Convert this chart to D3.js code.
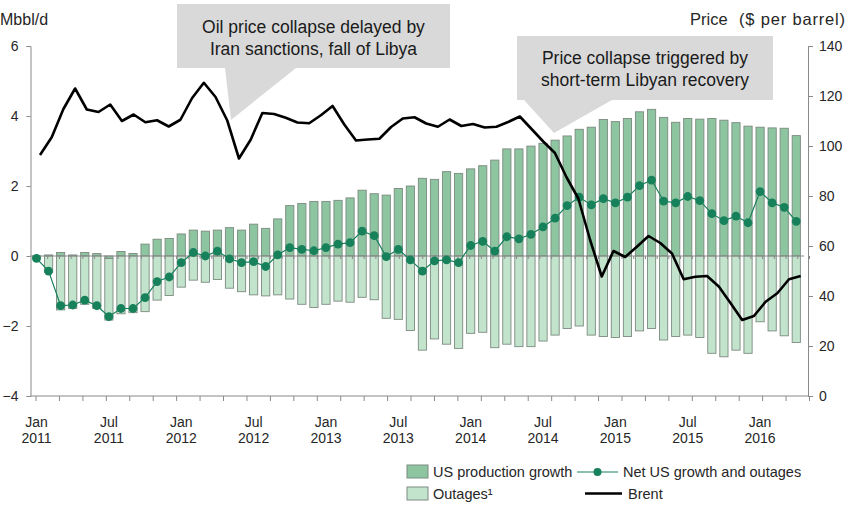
<!DOCTYPE html>
<html><head><meta charset="utf-8">
<script src="https://cdn.jsdelivr.net/npm/d3@7"></script>
<style>
body{margin:0;background:#fff;}
svg text{font-family:"Liberation Sans", Arial, sans-serif;}
</style></head><body>
<svg id="chart" width="849" height="508"></svg>
<script>
// ---------- DATA ----------
const barMonths = d3.timeMonths(new Date(2011,0,1), new Date(2016,4,1));   // Jan 2011 .. Apr 2016 (64)
const brentMonths = d3.timeMonths(new Date(2011,0,1), new Date(2016,6,1)); // Jan 2011 .. Jun 2016 (66)

const usProduction = [0, 0.03, 0.10, 0.03, 0.10, 0.07, -0.07, 0.13, 0.07, 0.34, 0.48, 0.50,
  0.63, 0.74, 0.71, 0.74, 0.81, 0.74, 0.91, 0.79, 1.06, 1.44, 1.50, 1.56,
  1.56, 1.59, 1.66, 1.88, 1.78, 1.74, 1.93, 2.00, 2.22, 2.19, 2.41, 2.36,
  2.49, 2.58, 2.74, 3.06, 3.06, 3.14, 3.22, 3.31, 3.43, 3.62, 3.68, 3.90,
  3.84, 3.93, 4.12, 4.19, 3.96, 3.82, 3.93, 3.91, 3.93, 3.88, 3.81, 3.71,
  3.68, 3.66, 3.65, 3.44];

const outages = [-0.07, -0.47, -1.54, -1.50, -1.38, -1.50, -1.76, -1.65, -1.62, -1.59, -1.26, -1.13,
  -0.89, -0.69, -0.75, -0.67, -0.92, -1.02, -1.11, -1.14, -1.11, -1.23, -1.38, -1.47,
  -1.38, -1.29, -1.32, -1.18, -1.25, -1.78, -1.81, -2.13, -2.69, -2.37, -2.52, -2.64,
  -2.21, -2.18, -2.62, -2.52, -2.59, -2.59, -2.43, -2.26, -2.07, -2.00, -2.26, -2.30,
  -2.33, -2.30, -2.14, -2.07, -2.40, -2.30, -2.26, -2.33, -2.78, -2.88, -2.69, -2.78,
  -1.88, -2.14, -2.28, -2.47];

const netGrowth = [-0.07, -0.43, -1.42, -1.40, -1.26, -1.42, -1.73, -1.50, -1.50, -1.19, -0.73, -0.60,
  -0.19, 0.10, 0.00, 0.14, -0.08, -0.19, -0.16, -0.30, 0.03, 0.24, 0.19, 0.15,
  0.24, 0.34, 0.38, 0.71, 0.58, -0.02, 0.19, -0.11, -0.43, -0.14, -0.11, -0.19,
  0.30, 0.42, 0.14, 0.55, 0.49, 0.62, 0.83, 1.08, 1.44, 1.68, 1.46, 1.64,
  1.52, 1.68, 2.01, 2.17, 1.57, 1.52, 1.70, 1.58, 1.21, 1.01, 1.14, 0.95,
  1.84, 1.52, 1.39, 0.99];

const brent = [96.4, 103.5, 114.8, 123.0, 114.6, 113.6, 116.6, 110.0, 112.6, 109.5, 110.3, 107.8,
  110.5, 119.2, 125.3, 119.6, 110.2, 95.0, 102.5, 113.2, 112.8, 111.3, 109.4, 109.1,
  112.3, 116.0, 108.6, 102.2, 102.6, 102.9, 107.6, 111.0, 111.5, 109.0, 107.7, 110.6,
  108.0, 108.8, 107.4, 107.7, 109.6, 111.8, 106.8, 101.8, 97.2, 87.4, 79.0, 62.5,
  47.8, 58.0, 55.6, 59.7, 64.0, 61.2, 57.0, 46.7, 47.7, 48.0, 43.8, 37.2,
  30.4, 32.0, 37.7, 41.1, 46.7, 48.0];

const leftTicks = [-4, -2, 0, 2, 4, 6];
const rightTicks = [0, 20, 40, 60, 80, 100, 120, 140];
const xTickLabels = ["Jan 2011","Jul 2011","Jan 2012","Jul 2012","Jan 2013","Jul 2013",
  "Jan 2014","Jul 2014","Jan 2015","Jul 2015","Jan 2016"];

const callouts = [
  {lines:["Oil price collapse delayed by","Iran sanctions, fall of Libya"]},
  {lines:["Price collapse triggered by","short-term Libyan recovery"]}
];

// ---------- SETUP ----------
const svg = d3.select("#chart");
const C = {dark:"#8cc5a0", light:"#c3e4cc", edge:"#7d8a80", net:"#16815b", axis:"#8a8a8a", text:"#262626"};
const fmt = d3.timeFormat("%b %Y");

const x = d3.scaleBand().domain(barMonths.map(fmt)).range([30.5, 802.3]).paddingInner(0.32).paddingOuter(0.16);
const xb = d3.scalePoint().domain(brentMonths.map(fmt)).range([40, 800.7]);
const xt = d3.scaleLinear().domain([0, 66]).range([35.5, 809]);
const yL = d3.scaleLinear().domain([-4, 6]).range([396, 46]);
const yR = d3.scaleLinear().domain([0, 140]).range([396, 46]);

const rows = barMonths.map((m, i) => ({m: fmt(m), prod: usProduction[i], out: outages[i]}));
const stack = d3.stack().keys(["prod", "out"]).offset(d3.stackOffsetDiverging)(rows);

// ---------- CALLOUTS ----------
const boxes = [
  {x0:177, x1:450, y0:4, y1:68, w0:225, w1:296, tip:[231,120], base:[32.5,54.5]},
  {x0:517, x1:773, y0:36, y1:100, w0:524, w1:612, tip:[554,133], base:[64,86]}
];
boxes.forEach((b, k) => {
  const pts = [[b.x0,b.y0],[b.x1,b.y0],[b.x1,b.y1],[b.w1,b.y1],b.tip,[b.w0,b.y1],[b.x0,b.y1]];
  svg.append("path").attr("d", d3.line()(pts) + "Z").attr("fill", "#d9d9d9");
  callouts[k].lines.forEach((t, j) => {
    svg.append("text").attr("x", (b.x0 + b.x1) / 2).attr("y", b.base[j])
      .attr("text-anchor", "middle").attr("font-size", 17.5).attr("fill", "#1a1a1a").text(t);
  });
});

// ---------- BARS ----------
const barG = svg.append("g");
stack.forEach((s, si) => {
  barG.selectAll(null).data(s).join("rect")
    .attr("x", d => x(d.data.m))
    .attr("width", x.bandwidth())
    .attr("y", d => yL(Math.max(d[0], d[1])))
    .attr("height", d => Math.abs(yL(d[0]) - yL(d[1])))
    .attr("fill", si === 0 ? C.dark : C.light)
    .attr("stroke", C.edge).attr("stroke-width", 0.9);
});

// ---------- AXES ----------
function styleAxis(g) {
  g.selectAll("path.domain").attr("stroke", C.axis);
  g.selectAll(".tick line").attr("stroke", C.axis);
  g.selectAll(".tick text").attr("fill", C.text).attr("font-size", 14)
    .attr("font-family", '"Liberation Sans", Arial, sans-serif');
}
// zero line with small ticks
const zg = svg.append("g").attr("transform", `translate(0,${yL(0)})`)
  .call(d3.axisBottom(xt).tickValues(d3.range(0, 67)).tickSize(3).tickFormat(""));
zg.select("path.domain").remove();
zg.selectAll(".tick line").attr("stroke", C.axis);
svg.append("line").attr("x1", 30.5).attr("x2", 804).attr("y1", yL(0)).attr("y2", yL(0)).attr("stroke", C.axis);

// bottom axis
const bg = svg.append("g").attr("transform", `translate(0,${yL(-4)})`)
  .call(d3.axisBottom(xt).tickValues(d3.range(0, 67, 2)).tickSize(5).tickFormat(""));
bg.select("path.domain").remove();
bg.selectAll(".tick line").attr("stroke", C.axis);
svg.append("line").attr("x1", 30.5).attr("x2", 808).attr("y1", yL(-4)).attr("y2", yL(-4)).attr("stroke", C.axis);

// month labels
const lg = svg.append("g").attr("transform", `translate(0,${yL(-4)})`)
  .call(d3.axisBottom(x).tickValues(xTickLabels).tickSize(0));
lg.select("path.domain").remove();
lg.selectAll(".tick text").each(function(d) {
  const parts = d.split(" ");
  const t = d3.select(this).text(null).attr("dy", null).attr("y", null)
    .attr("fill", C.text).attr("font-size", 14).attr("font-family", '"Liberation Sans", Arial, sans-serif');
  t.append("tspan").attr("x", 0).attr("y", 31).text(parts[0]);
  t.append("tspan").attr("x", 0).attr("y", 47).text(parts[1]);
});

// left axis
svg.append("g").attr("transform", "translate(30.5,0)")
  .call(d3.axisLeft(yL).tickValues(leftTicks).tickSize(4).tickPadding(8).tickFormat(d3.format("d")))
  .call(styleAxis);
// right axis
svg.append("g").attr("transform", "translate(808,0)")
  .call(d3.axisRight(yR).tickValues(rightTicks).tickSize(5).tickPadding(6))
  .call(styleAxis);

// ---------- NET LINE ----------
const cx = (m) => x(m) + x.bandwidth() / 2;
svg.append("path").datum(netGrowth)
  .attr("d", d3.line().x((d, i) => cx(fmt(barMonths[i]))).y(d => yL(d)))
  .attr("fill", "none").attr("stroke", C.net).attr("stroke-width", 1.2);
svg.append("g").selectAll("circle").data(netGrowth).join("circle")
  .attr("cx", (d, i) => cx(fmt(barMonths[i]))).attr("cy", d => yL(d)).attr("r", 4.4)
  .attr("fill", C.net);

// ---------- BRENT ----------
svg.append("path").datum(brent)
  .attr("d", d3.line().x((d, i) => xb(fmt(brentMonths[i]))).y(d => yR(d)))
  .attr("fill", "none").attr("stroke", "#000").attr("stroke-width", 2.6).attr("stroke-linejoin", "round");

// ---------- TITLES ----------
svg.append("text").attr("x", 0).attr("y", 25).attr("font-size", 16).attr("fill", C.text).text("Mbbl/d");
svg.append("text").attr("x", 690).attr("y", 25).attr("font-size", 16.5).attr("fill", C.text).text("Price");
svg.append("text").attr("x", 845).attr("y", 25).attr("text-anchor", "end").attr("font-size", 16.5)
  .attr("fill", C.text).attr("textLength", 106).attr("lengthAdjust", "spacing").text("($ per barrel)");

// ---------- LEGEND ----------
const leg = svg.append("g").attr("font-size", 14.5).attr("fill", C.text);
leg.append("rect").attr("x", 407).attr("y", 465).attr("width", 21).attr("height", 13)
  .attr("fill", C.dark).attr("stroke", C.edge);
leg.append("text").attr("x", 433).attr("y", 477).text("US production growth");
leg.append("rect").attr("x", 407).attr("y", 487).attr("width", 21).attr("height", 13)
  .attr("fill", C.light).attr("stroke", C.edge);
leg.append("text").attr("x", 433).attr("y", 499).text("Outages¹");
leg.append("line").attr("x1", 577).attr("x2", 618).attr("y1", 472).attr("y2", 472)
  .attr("stroke", C.net).attr("stroke-width", 1.2);
leg.append("circle").attr("cx", 597.5).attr("cy", 472).attr("r", 4).attr("fill", C.net);
leg.append("text").attr("x", 623).attr("y", 477).text("Net US growth and outages");
leg.append("line").attr("x1", 585).attr("x2", 622).attr("y1", 493.5).attr("y2", 493.5)
  .attr("stroke", "#000").attr("stroke-width", 2.6);
leg.append("text").attr("x", 628).attr("y", 499).text("Brent");
</script>
</body></html>
